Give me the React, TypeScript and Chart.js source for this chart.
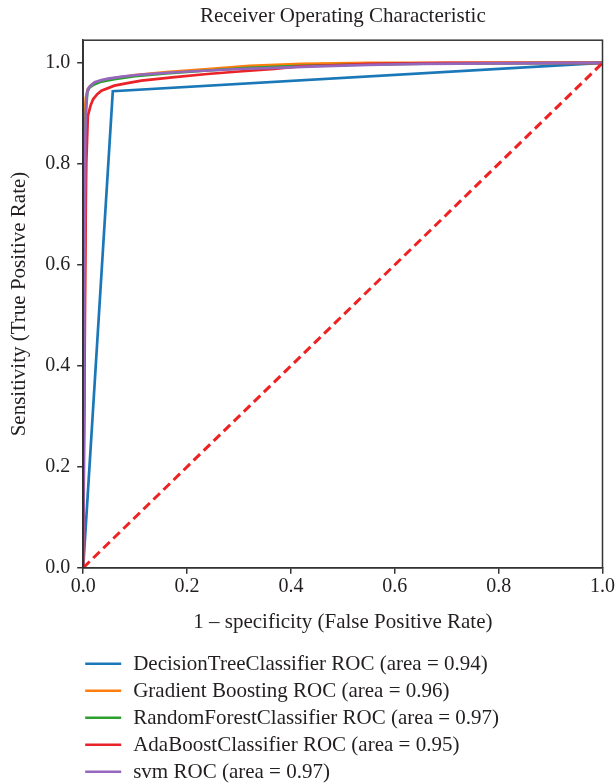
import React, { useEffect, useRef } from "react";
import { Chart, registerables } from "chart.js";

Chart.register(...registerables);

const TITLE = "Receiver Operating Characteristic";
const X_TITLE = "1 \u2013 specificity (False Positive Rate)";
const Y_TITLE = "Sensitivity (True Positive Rate)";
const TICKS = [0, 0.2, 0.4, 0.6, 0.8, 1.0];

const LABELS = [
  "DecisionTreeClassifier ROC (area = 0.94)",
  "Gradient Boosting ROC (area = 0.96)",
  "RandomForestClassifier ROC (area = 0.97)",
  "AdaBoostClassifier ROC (area = 0.95)",
  "svm ROC (area = 0.97)",
];
const COLORS = ["#1a78b8", "#ff7f0e", "#2ca02c", "#ea2328", "#9467bd"];

const dtFpr = [0, 0.057, 1];
const dtTpr = [0, 0.944, 1];

const gbFpr = [0, 0.002, 0.003, 0.005, 0.008, 0.012, 0.02, 0.035, 0.06, 0.1, 0.16, 0.24, 0.32, 0.42, 0.55, 0.7, 1];
const gbTpr = [0, 0.55, 0.9, 0.93, 0.946, 0.953, 0.959, 0.965, 0.97, 0.976, 0.982, 0.988, 0.994, 0.998, 1, 1, 1];

const rfFpr = [0, 0.003, 0.005, 0.008, 0.012, 0.02, 0.035, 0.06, 0.1, 0.16, 0.24, 0.32, 0.42, 0.55, 0.7, 1];
const rfTpr = [0, 0.6, 0.9, 0.942, 0.951, 0.957, 0.963, 0.968, 0.974, 0.979, 0.985, 0.99, 0.994, 0.997, 0.999, 1];

const abFpr = [0, 0.003, 0.005, 0.006, 0.009, 0.014, 0.019, 0.027, 0.035, 0.06, 0.085, 0.112, 0.176, 0.239, 0.3, 0.368, 0.415, 0.48, 0.55, 0.7, 1];
const abTpr = [0, 0.45, 0.72, 0.803, 0.895, 0.915, 0.928, 0.938, 0.945, 0.955, 0.96, 0.965, 0.972, 0.978, 0.983, 0.988, 0.993, 0.995, 0.998, 1, 1];

const svmFpr = [0, 0.002, 0.004, 0.006, 0.009, 0.015, 0.022, 0.035, 0.048, 0.075, 0.112, 0.17, 0.24, 0.3, 0.37, 0.45, 0.55, 0.65, 0.8, 1];
const svmTpr = [0, 0.5, 0.85, 0.93, 0.948, 0.956, 0.962, 0.966, 0.969, 0.973, 0.977, 0.981, 0.985, 0.988, 0.99, 0.993, 0.996, 0.998, 0.999, 1];

const diagFpr = [0, 1];
const diagTpr = [0, 1];

const SERIES = [
  [dtFpr, dtTpr],
  [gbFpr, gbTpr],
  [rfFpr, rfTpr],
  [abFpr, abTpr],
  [svmFpr, svmTpr],
];

const FONT = "'Liberation Serif', 'DejaVu Serif', serif";
const TEXT = "#231f20";

const framePlugin = {
  id: "frame",
  afterDraw(chart: any) {
    const { ctx, chartArea } = chart;
    ctx.save();
    ctx.strokeStyle = "#333333";
    ctx.lineWidth = 1.5;
    ctx.strokeRect(chartArea.left, chartArea.top, chartArea.right - chartArea.left, chartArea.bottom - chartArea.top);
    ctx.restore();
  },
};

const legendPlugin = {
  id: "customLegend",
  afterDraw(chart: any) {
    const { ctx, chartArea } = chart;
    ctx.save();
    ctx.font = `21px ${FONT}`;
    ctx.textBaseline = "middle";
    ctx.fillStyle = TEXT;
    const items = chart.data.datasets.filter((d: any) => d.label);
    items.forEach((d: any, i: number) => {
      const y = chartArea.bottom + 96 + i * 27;
      const x0 = chartArea.left + 2;
      ctx.strokeStyle = d.borderColor;
      ctx.lineWidth = 2.5;
      ctx.beginPath();
      ctx.moveTo(x0, y);
      ctx.lineTo(x0 + 36, y);
      ctx.stroke();
      ctx.fillText(d.label, x0 + 48, y + 1);
    });
    ctx.restore();
  },
};

export default function App() {
  const ref = useRef<HTMLCanvasElement>(null);
  useEffect(() => {
    document.body.style.margin = "0";
    const datasets: any[] = SERIES.map(([xs, ys], i) => ({
      label: LABELS[i],
      data: xs.map((x, j) => ({ x, y: ys[j] })),
      borderColor: COLORS[i],
      backgroundColor: COLORS[i],
      borderWidth: 2.7,
      pointRadius: 0,
      tension: 0,
      fill: false,
      order: 6 - i,
    }));
    datasets.push({
      label: "",
      data: diagFpr.map((x, j) => ({ x, y: diagTpr[j] })),
      borderColor: "#ee2222",
      borderWidth: 3,
      borderDash: [9, 5],
      pointRadius: 0,
      fill: false,
      order: 0,
    });
    const chart = new Chart(ref.current!, {
      type: "line",
      data: { datasets },
      options: {
        responsive: false,
        animation: false,
        layout: { padding: { left: 4, right: 0, top: 0, bottom: 149 } },
        plugins: {
          legend: { display: false },
          tooltip: { enabled: false },
          title: {
            display: true,
            text: TITLE,
            fullSize: false,
            color: TEXT,
            font: { family: FONT, size: 21, weight: "normal" },
            padding: { top: 4, bottom: 11 },
          },
        },
        scales: {
          x: {
            type: "linear",
            min: 0,
            max: 1,
            afterBuildTicks: (axis: any) => {
              axis.ticks = TICKS.map((v) => ({ value: v }));
            },
            ticks: {
              color: TEXT,
              font: { family: FONT, size: 20 },
              padding: 1,
              maxRotation: 0,
              callback: (v: any) => Number(v).toFixed(1),
            },
            grid: { display: true, drawOnChartArea: false, drawTicks: true, tickLength: 6, color: "#333333", lineWidth: 1.5 },
            border: { display: true, color: "#333333", width: 1.5 },
            title: {
              display: true,
              text: X_TITLE,
              color: TEXT,
              font: { family: FONT, size: 21 },
              padding: { top: 10, bottom: 0 },
            },
          },
          y: {
            type: "linear",
            min: 0,
            max: 1.045,
            afterBuildTicks: (axis: any) => {
              axis.ticks = TICKS.map((v) => ({ value: v }));
            },
            ticks: {
              color: TEXT,
              font: { family: FONT, size: 20 },
              padding: 7,
              callback: (v: any) => Number(v).toFixed(1),
            },
            grid: { display: true, drawOnChartArea: false, drawTicks: true, tickLength: 6, color: "#333333", lineWidth: 1.5 },
            border: { display: true, color: "#333333", width: 1.5 },
            title: {
              display: true,
              text: Y_TITLE,
              color: TEXT,
              font: { family: FONT, size: 21 },
              padding: { top: 3, bottom: 6 },
            },
          },
        },
      },
      plugins: [framePlugin, legendPlugin],
    });
    return () => chart.destroy();
  }, []);
  return (
    <div style={{ position: "absolute", left: 0, top: 0, width: 616, height: 784 }}>
      <canvas ref={ref} width={616} height={784} />
    </div>
  );
}
